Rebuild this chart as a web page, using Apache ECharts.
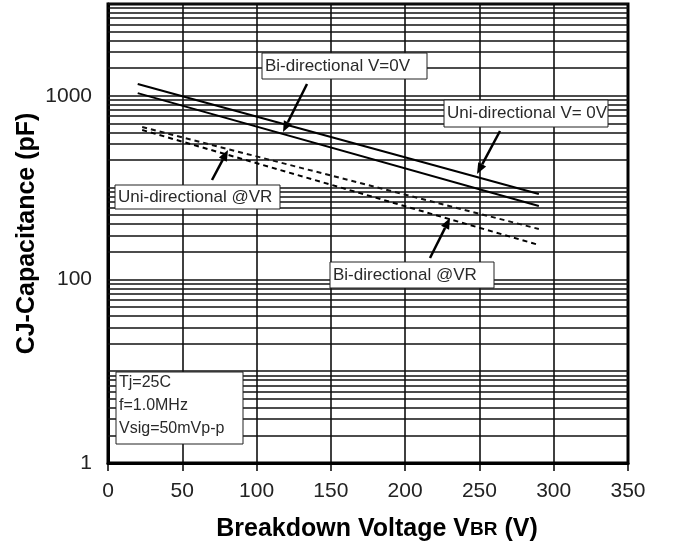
<!DOCTYPE html>
<html>
<head>
<meta charset="utf-8">
<script src="https://cdn.jsdelivr.net/npm/echarts@6/dist/echarts.min.js"></script>
<style>
  html, body { margin: 0; padding: 0; background: #fff; }
  #main { width: 674px; height: 551px; }
</style>
</head>
<body>
<div id="main"></div>
<script>
// breakdown voltage (V) at the ends of each curve
var uniZeroV = [[20, 13450], [290, 850]];     // Uni-directional V=0V (upper solid)
var biZeroV = [[20, 10700], [290, 630]];      // Bi-directional V=0V (lower solid)
var uniAtVR = [[23, 4570], [290, 354]];       // Uni-directional @VR (upper dashed)
var biAtVR = [[23, 4240], [290, 237]];        // Bi-directional @VR (lower dashed)

var xTicks = [0, 50, 100, 150, 200, 250, 300, 350];
// labels printed on the y axis (as they appear on the sheet)
var yLabels = { 1: '1', 100: '100', 10000: '1000' };

// horizontal grid lines: every 1..9 x 10^k
var gridVals = [];
for (var k = 0; k < 5; k++) {
  for (var m = 1; m <= 9; m++) {
    var v = m * Math.pow(10, k);
    if (v > 1) gridVals.push({ yAxis: v });
  }
}
gridVals.push({ yAxis: 100000 });

function arrow(x1, y1, x2, y2) {
  var dx = x2 - x1, dy = y2 - y1, len = Math.sqrt(dx * dx + dy * dy);
  var ux = dx / len, uy = dy / len, hl = 11, hw = 4.5;
  var bx = x2 - ux * hl, by = y2 - uy * hl;
  return [
    { type: 'line', z: 100, shape: { x1: x1, y1: y1, x2: bx, y2: by },
      style: { stroke: '#000', lineWidth: 2.5 } },
    { type: 'polygon', z: 100,
      shape: { points: [[x2, y2], [bx - uy * hw, by + ux * hw], [bx + uy * hw, by - ux * hw]] },
      style: { fill: '#000' } }
  ];
}

function box(x, y, w, h, lines, fontSize, lineGap) {
  var els = [{ type: 'rect', z: 100, shape: { x: x, y: y, width: w, height: h },
    style: { fill: '#fff', stroke: '#222', lineWidth: 1 } }];
  lines.forEach(function (t, i) {
    var ty = lines.length > 1 ? y + 11 + i * lineGap : y + h / 2;
    els.push({ type: 'text', z: 101,
      style: { text: t, x: x + 3, y: ty, verticalAlign: 'middle', fill: '#2a2a2a',
        font: fontSize + 'px "Liberation Sans", Arial, sans-serif' } });
  });
  return els;
}

var graphics = []
  .concat(box(262, 53, 165, 26, ['Bi-directional V=0V'], 17))
  .concat(arrow(307, 84, 283, 132))
  .concat(box(444, 100, 164, 27, ['Uni-directional V= 0V'], 17))
  .concat(arrow(500, 131, 477, 174))
  .concat(box(115, 185, 165, 24, ['Uni-directional @VR'], 17))
  .concat(arrow(212, 180, 228, 150))
  .concat(box(330, 262, 164, 26, ['Bi-directional @VR'], 17))
  .concat(arrow(430, 258, 450, 218))
  .concat(box(116, 372, 127, 72, ['Tj=25C', 'f=1.0MHz', 'Vsig=50mVp-p'], 16, 23));

var myChart = echarts.init(document.getElementById('main'));
var option = {
  animation: false,
  backgroundColor: '#fff',
  grid: { left: 108, right: 46, top: 4, bottom: 88, show: true, borderColor: '#000', borderWidth: 3 },
  xAxis: {
    type: 'value', min: 0, max: 350, interval: 50,
    name: 'Breakdown Voltage V{s|BR} (V)',
    nameLocation: 'middle', nameGap: 54,
    nameTextStyle: {
      fontFamily: '"Liberation Sans", Arial', fontWeight: 'bold', fontSize: 25, color: '#000',
      padding: [0, 0, 0, 18],
      rich: { s: { fontFamily: '"Liberation Sans", Arial', fontWeight: 'bold', fontSize: 19, color: '#000' } }
    },
    axisLine: { lineStyle: { color: '#000', width: 3 } },
    axisTick: { length: 8, lineStyle: { color: '#000', width: 1.5 } },
    axisLabel: {
      margin: 18, fontSize: 21, color: '#222', fontFamily: '"Liberation Sans", Arial',
      formatter: function (v) { return xTicks.indexOf(v) >= 0 ? String(v) : ''; }
    },
    splitLine: { lineStyle: { color: '#000', width: 1.5 } }
  },
  yAxis: {
    type: 'log', logBase: 10, min: 1, max: 100000,
    name: 'CJ-Capacitance (pF)',
    nameLocation: 'middle', nameGap: 68, nameRotate: 90, nameMoveOverlap: false,
    nameTextStyle: { fontFamily: '"Liberation Sans", Arial', fontWeight: 'bold', fontSize: 25, color: '#000' },
    axisLine: { show: true, lineStyle: { color: '#000', width: 3 } },
    axisTick: { show: false },
    axisLabel: {
      margin: 16, fontSize: 21, color: '#222', fontFamily: '"Liberation Sans", Arial',
      formatter: function (v) { return yLabels[Math.round(v)] || ''; }
    },
    splitLine: { show: false }
  },
  graphic: graphics,
  series: [
    { name: 'grid', type: 'line', data: [], silent: true,
      markLine: { silent: true, symbol: ['none', 'none'], label: { show: false },
        lineStyle: { color: '#111', width: 1.5, type: 'solid' }, data: gridVals } },
    { name: 'Uni-directional V=0V', type: 'line', data: uniZeroV, symbol: 'none',
      lineStyle: { color: '#000', width: 2 }, z: 5 },
    { name: 'Bi-directional V=0V', type: 'line', data: biZeroV, symbol: 'none',
      lineStyle: { color: '#000', width: 2 }, z: 5 },
    { name: 'Uni-directional @VR', type: 'line', data: uniAtVR, symbol: 'none',
      lineStyle: { color: '#111', width: 2, type: [5, 4] }, z: 5 },
    { name: 'Bi-directional @VR', type: 'line', data: biAtVR, symbol: 'none',
      lineStyle: { color: '#000', width: 2, type: [5, 4] }, z: 5 }
  ]
};
myChart.setOption(option);
</script>
</body>
</html>
